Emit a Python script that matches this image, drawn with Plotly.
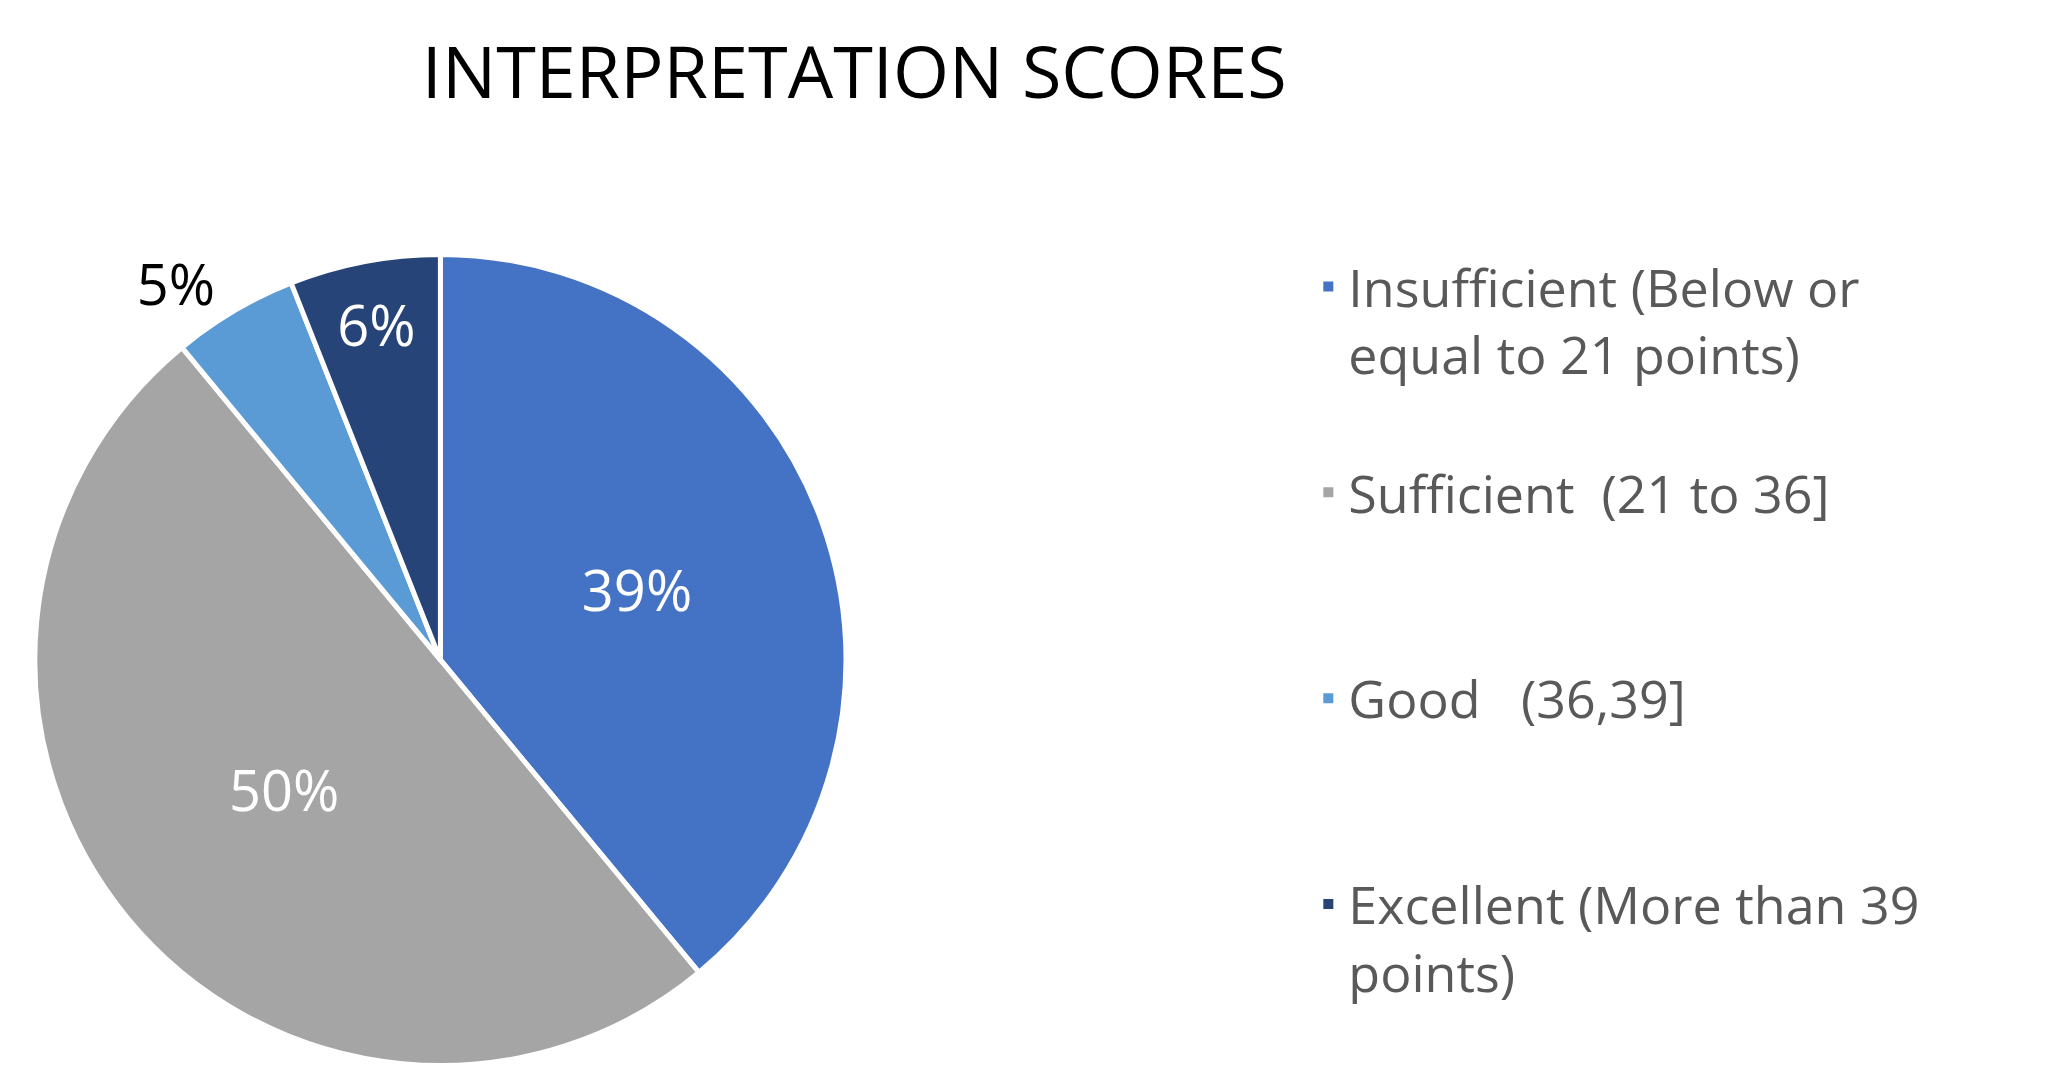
import plotly.graph_objects as go

labels = ["Insufficient (Below or<br>equal to 21 points)<br> ",
          "Sufficient  (21 to 36]<br> <br> ",
          "Good   (36,39]<br> <br> ",
          "Excellent (More than 39<br>points)<br> "]
values = [39, 50, 5, 6]
colors = ["#4472C4", "#A5A5A5", "#5B9BD5", "#264478"]

fig = go.Figure(go.Pie(
    labels=labels, values=values, sort=False, direction="clockwise", rotation=0,
    marker=dict(colors=colors, line=dict(color="white", width=5)),
    texttemplate="%{percent:.0%}",
    textposition=["inside", "inside", "outside", "inside"],
    insidetextorientation="horizontal",
    textfont=dict(size=56, color=["white", "white", "black", "white"], family="Open Sans"),
    outsidetextfont=dict(size=56, color="black", family="Open Sans"),
    domain=dict(x=[0.013, 0.406], y=[0.023, 0.773]),
    hoverinfo="label+percent",
))
fig.update_layout(
    width=2064, height=1083, paper_bgcolor="white",
    margin=dict(l=0, r=0, t=0, b=0),
    font=dict(family="Open Sans"),
    title=dict(text="INTERPRETATION SCORES", x=0.41, xanchor="center", y=0.94, yanchor="middle",
               font=dict(size=72, color="black")),
    legend=dict(x=0.63, y=0.78, xanchor="left", yanchor="top", valign="top",
                font=dict(size=52, color="#595959"), itemsizing="constant"),
)
fig.write_html("out.html")
